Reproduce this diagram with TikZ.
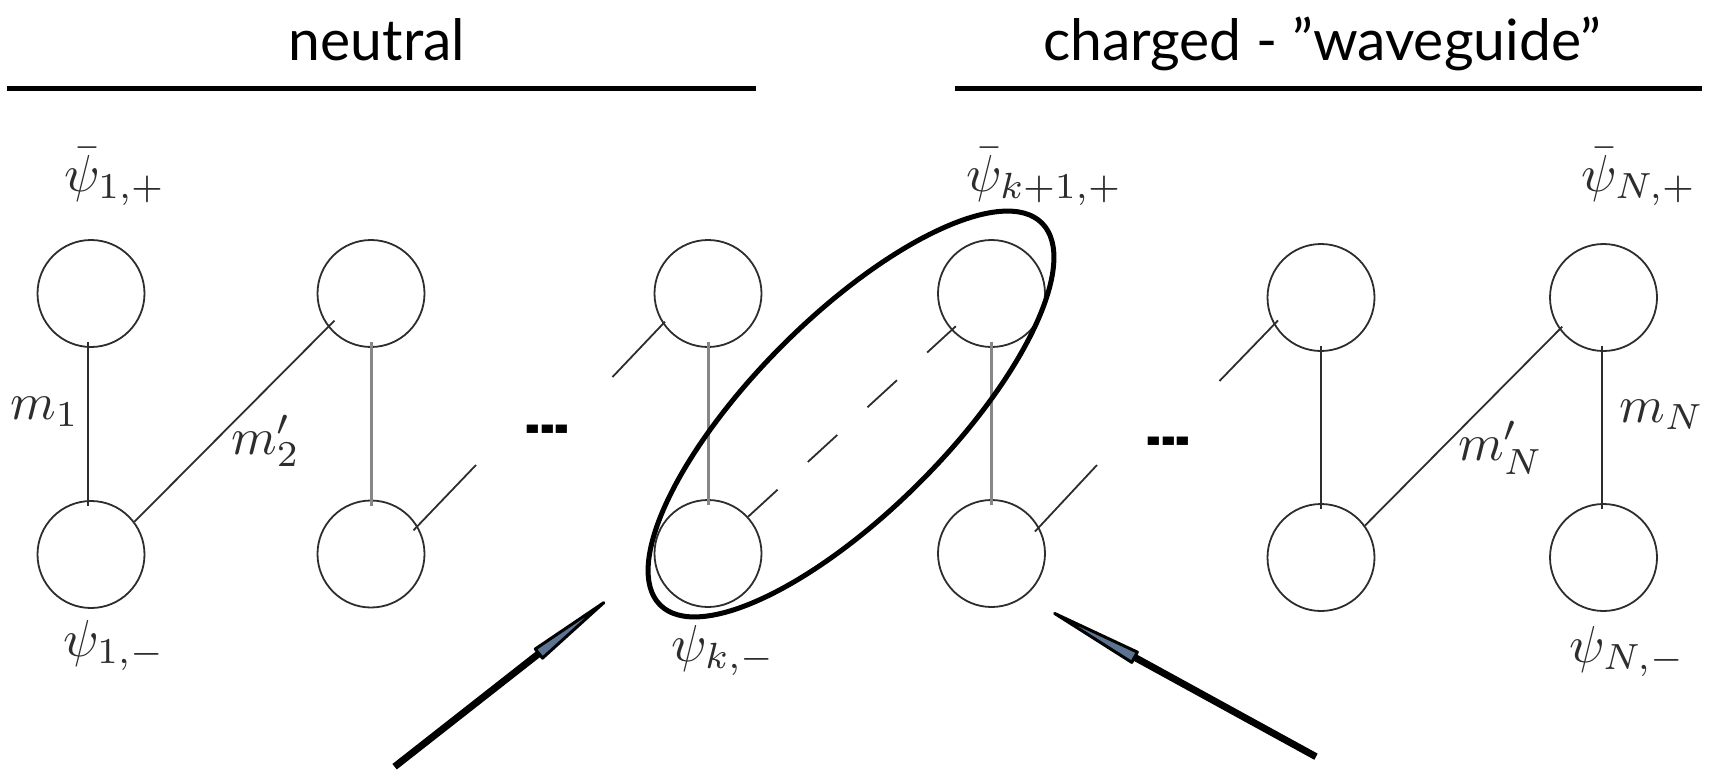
\documentclass[tikz,border=0pt]{standalone}
\usepackage[no-math]{fontspec}
\usepackage{graphicx}
\newfontfamily\titlefont{Lato}
\newfontfamily\dashfont{Liberation Sans}
\usetikzlibrary{arrows.meta,calc}
\definecolor{ink}{RGB}{45,45,45}
\definecolor{lgray}{RGB}{135,135,135}
\definecolor{arrowfill}{RGB}{92,116,145}
\begin{document}
\begin{tikzpicture}[x=1pt,y=-1pt,
  site/.style={circle,draw=ink,line width=1.8pt,minimum size=107pt,inner sep=0pt},
  bond/.style={draw=ink,line width=1.8pt},
  gbond/.style={draw=lgray,line width=3pt},
  lab/.style={inner sep=0pt,text=ink},
  ttl/.style={inner sep=0pt,font=\titlefont\fontsize{57}{68}\selectfont},
  rulebar/.style={line width=5.5pt},
  dots/.style={inner sep=0pt,font=\dashfont\bfseries\fontsize{44}{44}\selectfont},
  pointer/.style={line width=7pt,-{Triangle[length=#1,width=14pt,line width=3pt,round,fill=arrowfill]}},
]
\useasboundingbox (0,0) rectangle (1709,769);

% titles
\node[ttl,anchor=base] (neutral) at (377,60) {neutral};
\node[ttl,anchor=base] (charged) at (1322,60) {charged - ”waveguide”};
\coordinate (r1a) at (6.6,88.7); \coordinate (r1b) at (756,88.7);
\coordinate (r2a) at (955,88.7); \coordinate (r2b) at (1702,88.7);
\draw[rulebar] (r1a) -- (r1b);
\draw[rulebar] (r2a) -- (r2b);

% sites
\node[site] (t1)  at (91,293.5) {};
\node[site] (b1)  at (91,554.5) {};
\node[site] (t2)  at (371,293.5) {};
\node[site] (b2)  at (371,554) {};
\node[site] (tk)  at (708,293.5) {};
\node[site] (bk)  at (708,553.5) {};
\node[site] (tk1) at (991.5,293.5) {};
\node[site] (bk1) at (991.5,553.5) {};
\node[site] (t5)  at (1321,297.5) {};
\node[site] (b5)  at (1321,557.5) {};
\node[site] (tN)  at (1603.5,297.5) {};
\node[site] (bN)  at (1603.5,557.5) {};

% vertical bonds
\draw[bond,shorten <=-6pt,shorten >=-6pt] ([xshift=-3pt]t1.south) -- ([xshift=-3pt]b1.north);
\draw[gbond,shorten <=-6pt,shorten >=-6pt] (t2) -- (b2);
\draw[gbond,shorten <=-6pt,shorten >=-6pt] (tk) -- (bk);
\draw[gbond,shorten <=-6pt,shorten >=-6pt] (tk1) -- (bk1);
\draw[bond,shorten <=-6pt,shorten >=-6pt] (t5) -- (b5);
\draw[bond,shorten <=-6pt,shorten >=-6pt] ([xshift=-1.5pt]tN.south) -- ([xshift=-1.5pt]bN.north);

% diagonal bonds
\coordinate (s2) at (476,465);
\coordinate (sk) at (612.5,377);
\coordinate (sk1) at (1097,465);
\coordinate (s5) at (1219.5,381);
\draw[bond,shorten >=-9pt] (b1.37) -- (t2.218);
\draw[bond,shorten <=-6pt] (b2.31) -- (s2);
\draw[bond,shorten >=-3pt] (sk) -- (tk.214);
\draw[bond,dash pattern=on 40pt off 41pt,shorten >=-6pt] (bk) -- (tk1);
\draw[bond,shorten <=-6pt] (bk1.29) -- (sk1);
\draw[bond,shorten >=-6pt] (s5) -- (t5.210);
\draw[bond,shorten >=-4pt] (b5.36) -- (tN.216);

% labels
\node[lab,anchor=base west] (lt1)  at (64,191)   {\scalebox{5.2}{$\bar\psi_{1,+}$}};
\node[lab,anchor=base west] (lb1)  at (63,656)   {\scalebox{5.2}{$\psi_{1,-}$}};
\node[lab,anchor=base west] (ltk1) at (966,191)  {\scalebox{5.2}{$\bar\psi_{k+1,+}$}};
\node[lab,anchor=base west] (lbk)  at (671,661)  {\scalebox{5.2}{$\psi_{k,-}$}};
\node[lab,anchor=base west] (ltN)  at (1581,191) {\scalebox{5.2}{$\bar\psi_{N,+}$}};
\node[lab,anchor=base west] (lbN)  at (1569,662) {\scalebox{5.2}{$\psi_{N,-}$}};
\node[lab,anchor=base west] (lm1)  at (10,419)   {\scalebox{5.2}{$m_1$}};
\node[lab,anchor=base west] (lm2)  at (231,454)  {\scalebox{5.2}{$m'_2$}};
\node[lab,anchor=base west] (lmN)  at (1619,422) {\scalebox{5.2}{$m_N$}};
\node[lab,anchor=base west] (lmNp) at (1458,460) {\scalebox{5.2}{$m'_N$}};

% ellipsis marks
\node[dots,anchor=base] (d1) at (547.5,447) {\scalebox{1}[1.6]{-{}-{}-}};
\node[dots,anchor=base] (d2) at (1168.5,459) {\scalebox{1}[1.6]{-{}-{}-}};

% highlight ellipse
\coordinate (ec) at (851,414);
\draw[line width=5pt,rotate around={45:(ec)}] (ec) ellipse [x radius=270, y radius=97];

% pointers
\coordinate (a1tail) at (394.6,766.7);
\coordinate (a1tip) at (605,601.7);
\coordinate (a2tail) at (1316,756.7);
\coordinate (a2tip) at (1053.3,612.7);
\draw[pointer=107pt] (a1tail) -- (a1tip);
\draw[pointer=118pt] (a2tail) -- (a2tip);
\end{tikzpicture}
\end{document}
